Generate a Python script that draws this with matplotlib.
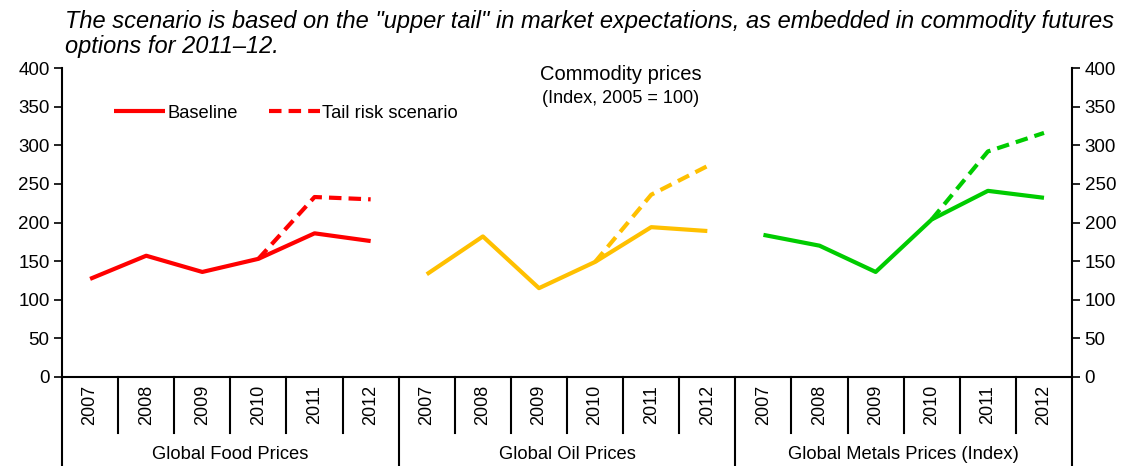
import matplotlib.pyplot as plt

plt.rcParams['font.family'] = ['Liberation Sans', 'DejaVu Sans']

# donnees
years = ["2007", "2008", "2009", "2010", "2011", "2012"]
groups = ["Global Food Prices", "Global Oil Prices", "Global Metals Prices (Index)"]
colors = ["#FF0000", "#FFC000", "#00CC00"]

food_base = [127, 157, 136, 153, 186, 176]
food_tail = [153, 233, 230]
oil_base = [133, 182, 115, 149, 194, 189]
oil_tail = [149, 236, 273]
metals_base = [184, 170, 136, 204, 241, 232]
metals_tail = [204, 292, 316]

base = [food_base, oil_base, metals_base]
tail = [food_tail, oil_tail, metals_tail]

fig = plt.figure(figsize=(11.28, 4.66), dpi=100)
ax = fig.add_axes([0.055, 0.191, 0.8954, 0.663])

n = len(years)
for g in range(3):
    xs = [g * n + i for i in range(n)]
    lb, = ax.plot(xs, base[g], color=colors[g], lw=3, solid_capstyle='butt')
    lt, = ax.plot(xs[3:], tail[g], color=colors[g], lw=3, ls=(0, (3.0, 1.7)))
    if g == 0:
        leg_b, leg_t = lb, lt

ax.set_xlim(-0.5, 3 * n - 0.5)
ax.set_ylim(0, 400)
ax.set_yticks(range(0, 401, 50))
ax.tick_params(axis='y', labelsize=13.5, direction='out', length=6, width=1.2,
               pad=3, left=True, right=True, labelleft=True, labelright=True)
ax.set_xticks([])
ax.spines['top'].set_visible(False)
for s in ['left', 'right', 'bottom']:
    ax.spines[s].set_linewidth(1.5)

# axe des categories en bas
trans = ax.get_xaxis_transform()
for k in range(3 * n + 1):
    x = k - 0.5
    if k % n == 0:
        y_end = -0.288
    else:
        y_end = -0.181
    ax.plot([x, x], [0, y_end], color='black', lw=1.5, transform=trans, clip_on=False)
for k in range(3 * n):
    ax.text(k, -0.09, years[k % n], rotation=90, ha='center', va='center',
            fontsize=13, transform=trans)
for g in range(3):
    ax.text(g * n + (n - 1) / 2, -0.252, groups[g], ha='center', va='center',
            fontsize=13.2, transform=trans)

# legende
ax.legend([leg_b, leg_t], ["Baseline", "Tail risk scenario"], loc='upper left',
          bbox_to_anchor=(0.035, 0.935), ncol=2, frameon=False, fontsize=13.2,
          handlelength=2.8, handletextpad=0.1, columnspacing=1.7)

ax.text(0.553, 1.01, "Commodity prices", transform=ax.transAxes, ha='center',
        va='top', fontsize=14.5)
ax.text(0.553, 0.93, "(Index, 2005 = 100)", transform=ax.transAxes, ha='center',
        va='top', fontsize=13)

fig.text(0.058, 0.978, "The scenario is based on the \"upper tail\" in market expectations, as embedded in commodity futures\noptions for 2011\u201312.",
         ha='left', va='top', fontsize=17, style='italic', linespacing=1.08)

plt.savefig("out.png", dpi=100)
